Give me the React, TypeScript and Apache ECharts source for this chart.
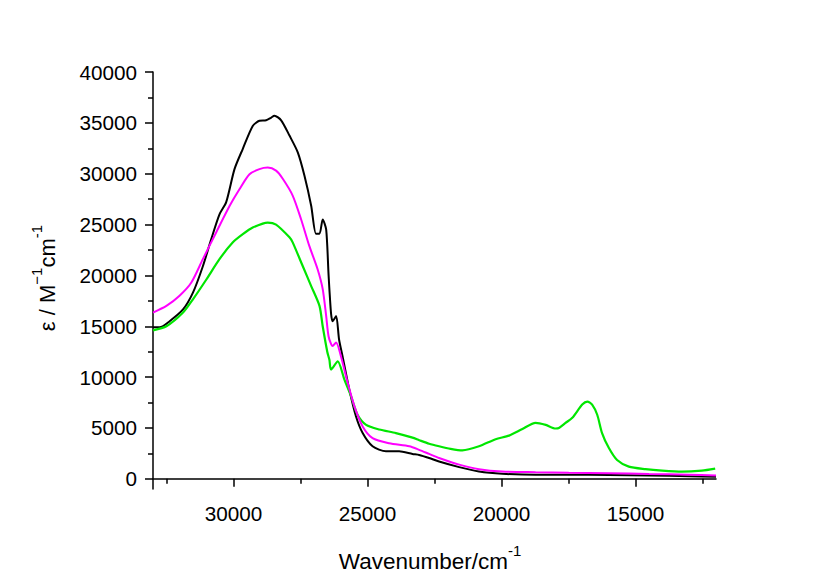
import React, { useEffect, useRef } from 'react';
import * as echarts from 'echarts';

// wavenumber (cm^-1), epsilon (M^-1 cm^-1)
const blackSpectrum: [number, number][] = [
  [33000, 14900], [32750, 14900], [32380, 15500], [31880, 16650], [31510, 18300], [31140, 20900],
  [30830, 23550], [30520, 26000], [30270, 27200], [29960, 30450], [29650, 32450], [29280, 34700],
  [29030, 35200], [28780, 35250], [28600, 35500], [28470, 35700], [28220, 35250], [27910, 33750],
  [27600, 32100], [27350, 29800], [27100, 26850], [26920, 24100], [26790, 24100], [26670, 25500],
  [26540, 24500], [26450, 20000], [26360, 16300], [26300, 15500], [26170, 16000], [26060, 13700],
  [25930, 12050], [25680, 8800], [25430, 6150], [25180, 4500], [24810, 3200], [24310, 2700],
  [23820, 2700], [23320, 2450], [23070, 2350], [22700, 2050], [22330, 1700], [21580, 1150],
  [20840, 720], [19970, 500], [18730, 400], [17490, 400], [16000, 380], [14500, 320],
  [13000, 260], [12000, 200],
];

const magentaSpectrum: [number, number][] = [
  [33000, 16350], [32500, 17000], [32010, 18000], [31570, 19300], [31140, 21600], [30640, 24250],
  [30140, 26850], [29770, 28500], [29400, 29950], [29030, 30450], [28720, 30600], [28410, 30300],
  [28160, 29500], [27790, 27850], [27480, 25550], [27170, 22900], [26860, 20600], [26670, 18650],
  [26540, 16000], [26450, 14000], [26300, 13050], [26170, 13400], [25990, 12050], [25740, 9450],
  [25490, 7150], [25180, 5150], [24810, 4000], [24190, 3500], [23440, 3200], [23070, 2850],
  [22700, 2450], [22330, 2050], [21580, 1400], [20840, 950], [19970, 720], [18730, 650],
  [17490, 600], [16000, 560], [14500, 480], [13000, 400], [12000, 330],
];

const greenSpectrum: [number, number][] = [
  [33000, 14600], [32500, 15000], [31880, 16350], [31510, 17650], [31010, 19600], [30520, 21600],
  [30020, 23250], [29650, 24050], [29280, 24700], [28720, 25200], [28410, 25000],
  [27910, 23750], [27790, 23250], [27420, 20950], [27100, 18950], [26790, 17000], [26670, 15000],
  [26500, 12500], [26420, 11700], [26360, 10750], [26110, 11550], [25860, 9750], [25610, 8100],
  [25370, 6300], [25050, 5300], [24560, 4850], [23940, 4500], [23320, 4050], [23070, 3800],
  [22700, 3450], [22330, 3200], [21900, 2950], [21460, 2800], [20840, 3200], [20220, 3900],
  [19720, 4250], [19220, 4900], [18730, 5500], [18350, 5300], [17980, 4950], [17860, 5000],
  [17610, 5500], [17360, 6000], [16990, 7300], [16800, 7600], [16620, 7300], [16430, 6300],
  [16250, 4500], [16000, 3050], [15690, 1850], [15250, 1200], [14630, 950], [14010, 800],
  [13270, 700], [12530, 800], [12030, 1000],
];

const xMajorTicks = [15000, 20000, 25000, 30000];
const xMinorTicks = [12500, 17500, 22500, 27500, 32500];
const yMajorTicks = [0, 5000, 10000, 15000, 20000, 25000, 30000, 35000, 40000];
const yMinorTicks = [2500, 7500, 12500, 17500, 22500, 27500, 32500, 37500];

const FONT = 'Arial, "Liberation Sans", sans-serif';

export default function App() {
  const ref = useRef<HTMLDivElement>(null);
  useEffect(() => {
    document.body.style.margin = '0';
    const chart = echarts.init(ref.current!, null, { renderer: 'svg' });
    const axisLine = { show: true, lineStyle: { color: '#000', width: 1.5 } };
    const fmt = (v: number) => String(v);
    chart.setOption({
      animation: false,
      backgroundColor: '#fff',
      grid: { left: 153, right: 103, top: 72, bottom: 83 },
      xAxis: [
        {
          type: 'value', min: 12000, max: 33000, inverse: true, position: 'bottom',
          axisLine,
          splitLine: { show: false },
          axisTick: { show: true, length: 8, lineStyle: { color: '#000', width: 1.5 }, customValues: xMajorTicks },
          axisLabel: { color: '#000', fontSize: 20.7, fontFamily: FONT, margin: 14, formatter: fmt, customValues: xMajorTicks },
        },
        {
          type: 'value', min: 12000, max: 33000, inverse: true, position: 'bottom',
          axisLine: { show: false },
          splitLine: { show: false },
          axisTick: { show: true, length: 5, lineStyle: { color: '#000', width: 1.5 }, customValues: xMinorTicks },
          axisLabel: { show: false },
        },
      ],
      yAxis: [
        {
          type: 'value', min: -1000, max: 40000, position: 'left',
          axisLine,
          splitLine: { show: false },
          axisTick: { show: true, length: 8, lineStyle: { color: '#000', width: 1.5 }, customValues: yMajorTicks },
          axisLabel: { color: '#000', fontSize: 20.7, fontFamily: FONT, margin: 16, formatter: fmt, customValues: yMajorTicks },
        },
        {
          type: 'value', min: -1000, max: 40000, position: 'left',
          axisLine: { show: false },
          splitLine: { show: false },
          axisTick: { show: true, length: 5, lineStyle: { color: '#000', width: 1.5 }, customValues: yMinorTicks },
          axisLabel: { show: false },
        },
      ],
      graphic: [
        {
          type: 'text', x: 430, y: 561,
          style: {
            text: '{a|Wavenumber/cm}{s|-1}',
            align: 'center', verticalAlign: 'middle', fill: '#000',
            rich: {
              a: { fontSize: 22.5, fontFamily: FONT, lineHeight: 36, verticalAlign: 'middle', fill: '#000' },
              s: { fontSize: 15, fontFamily: FONT, verticalAlign: 'top', fill: '#000' },
            },
          },
        },
        {
          type: 'text', x: 47, y: 278, rotation: Math.PI / 2,
          style: {
            text: '{a|ε / M}{s|−1}{a|cm}{s|-1}',
            align: 'center', verticalAlign: 'middle', fill: '#000',
            rich: {
              a: { fontSize: 22, fontFamily: FONT, lineHeight: 36, verticalAlign: 'middle', fill: '#000' },
              s: { fontSize: 15, fontFamily: FONT, verticalAlign: 'top', fill: '#000' },
            },
          },
        },
      ],
      series: [
        { name: 'black', type: 'line', data: blackSpectrum, showSymbol: false, smooth: 0.25, xAxisIndex: 0, yAxisIndex: 0, lineStyle: { color: '#000000', width: 2 }, itemStyle: { color: '#000000' } },
        { name: 'green', type: 'line', data: greenSpectrum, showSymbol: false, smooth: 0.25, xAxisIndex: 0, yAxisIndex: 0, lineStyle: { color: '#00e600', width: 2.2 }, itemStyle: { color: '#00e600' } },
        { name: 'magenta', type: 'line', data: magentaSpectrum, showSymbol: false, smooth: 0.25, xAxisIndex: 0, yAxisIndex: 0, lineStyle: { color: '#ff00ff', width: 2 }, itemStyle: { color: '#ff00ff' } },
      ],
    });
    return () => chart.dispose();
  }, []);
  return <div ref={ref} style={{ width: 819, height: 572, background: '#fff' }} />;
}
